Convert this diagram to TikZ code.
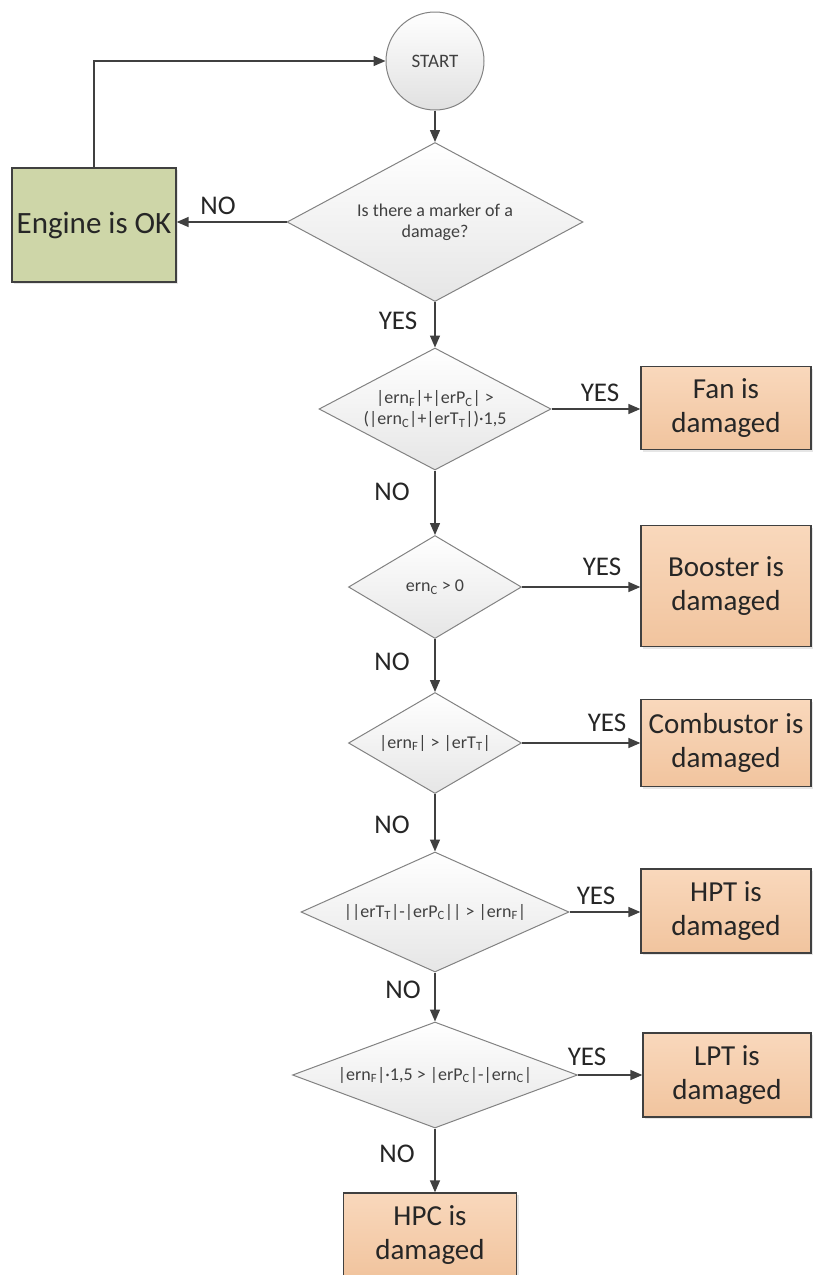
\documentclass[tikz,border=0pt]{standalone}
\usepackage{fontspec}
\setmainfont{Carlito}
\usetikzlibrary{shapes.geometric,shadows,arrows.meta}

\definecolor{okgreen}{RGB}{206,214,168}
\definecolor{dmgtop}{RGB}{249,216,188}
\definecolor{dmgbot}{RGB}{241,196,158}
\definecolor{linegray}{RGB}{64,64,64}
\definecolor{rimgray}{RGB}{130,130,130}

\newcommand{\sub}[1]{\textsubscript{#1}}

\begin{document}
\begin{tikzpicture}[x=1pt,y=-1pt,line width=1.4pt,
    startnode/.style={circle,draw=rimgray,line width=1pt,top color=white,bottom color=black!12,
      minimum size=98pt,inner sep=0pt,font=\fontsize{19}{22}\selectfont,text=black!75},
    decision/.style={diamond,draw=rimgray,line width=1pt,top color=white,bottom color=black!10,
      inner sep=0pt,align=center,font=\fontsize{18}{21}\selectfont,text=black!75},
    okbox/.style={rectangle,draw=linegray,line width=1.3pt,fill=okgreen,
      drop shadow={opacity=0.2,shadow xshift=2pt,shadow yshift=-2pt},
      minimum width=164pt,minimum height=114pt,font=\fontsize{31}{37}\selectfont,text=black!85},
    dmgbox/.style={rectangle,draw=linegray,line width=1.3pt,top color=dmgtop,bottom color=dmgbot,
      drop shadow={opacity=0.2,shadow xshift=2pt,shadow yshift=-2pt},
      minimum width=170pt,align=center,font=\fontsize{29}{34}\selectfont,text=black!85},
    answer/.style={font=\fontsize{27}{31}\selectfont,text=black!85},
    arr/.style={draw=linegray,-{Triangle[length=12pt,width=10pt]}}]
  \path[use as bounding box] (0,0) rectangle (813,1275);
  \path
  (435,61) node[startnode] (start) {START}
  (435,222) node[decision,aspect=1.86,minimum width=296pt,minimum height=159pt] (q0)
    {Is there a marker of a\\damage?}
  (94,225) node[okbox] (engine) {Engine is OK}

  (435,409) node[decision,aspect=1.9,minimum width=232pt,minimum height=122pt] (q1)
    {|ern\sub{F}|+|erP\sub{C}| >\\(|ern\sub{C}|+|erT\sub{T}|)·1,5}
  (726,408) node[dmgbox,minimum height=83pt] (fan) {Fan is\\damaged}

  (435,587) node[decision,aspect=1.69,minimum width=173pt,minimum height=103pt] (q2)
    {ern\sub{C} > 0}
  (726,586) node[dmgbox,minimum height=121pt] (booster) {Booster is\\damaged}

  (435,743) node[decision,aspect=1.69,minimum width=173pt,minimum height=101pt] (q3)
    {|ern\sub{F}| > |erT\sub{T}|}
  (726,743) node[dmgbox,minimum height=87pt] (comb) {Combustor is\\damaged}

  (435,912) node[decision,aspect=2.23,minimum width=268pt,minimum height=120pt] (q4)
    {||erT\sub{T}|-|erP\sub{C}|| > |ern\sub{F}|}
  (726,911) node[dmgbox,minimum height=84pt] (hpt) {HPT is\\damaged}

  (435,1075) node[decision,aspect=2.66,minimum width=285pt,minimum height=106pt] (q5)
    {|ern\sub{F}|·1,5 > |erP\sub{C}|-|ern\sub{C}|}
  (727,1075) node[dmgbox,minimum width=168pt,minimum height=84pt] (lpt) {LPT is\\damaged}

  (430,1235) node[dmgbox,minimum width=173pt,minimum height=84pt] (hpc) {HPC is\\damaged}
  ;
  % yes / no marks
  \path
  (218,206) node[answer] (no0) {NO}
  (398,321) node[answer] (yes0) {YES}
  (600,393) node[answer] (yes1) {YES}
  (392,492) node[answer] (no1) {NO}
  (602,567) node[answer] (yes2) {YES}
  (392,662) node[answer] (no2) {NO}
  (607,723) node[answer] (yes3) {YES}
  (392,825) node[answer] (no3) {NO}
  (596,896) node[answer] (yes4) {YES}
  (403,990) node[answer] (no4) {NO}
  (587,1057) node[answer] (yes5) {YES}
  (397,1154) node[answer] (no5) {NO}
  ;
  \draw[arr] (engine.north) |- (start.west);
  \draw[arr] (start.south) -- (q0.north);
  \draw[arr] (q0.west) -- (q0.west -| engine.east);
  \draw[arr] (q0.south) -- (q1.north);
  \draw[arr] (q1.east) -- (q1.east -| fan.west);
  \draw[arr] (q1.south) -- (q2.north);
  \draw[arr] (q2.east) -- (q2.east -| booster.west);
  \draw[arr] (q2.south) -- (q3.north);
  \draw[arr] (q3.east) -- (q3.east -| comb.west);
  \draw[arr] (q3.south) -- (q4.north);
  \draw[arr] (q4.east) -- (q4.east -| hpt.west);
  \draw[arr] (q4.south) -- (q5.north);
  \draw[arr] (q5.east) -- (q5.east -| lpt.west);
  \draw[arr] (q5.south) -- (q5.south |- hpc.north);
\end{tikzpicture}
\end{document}
